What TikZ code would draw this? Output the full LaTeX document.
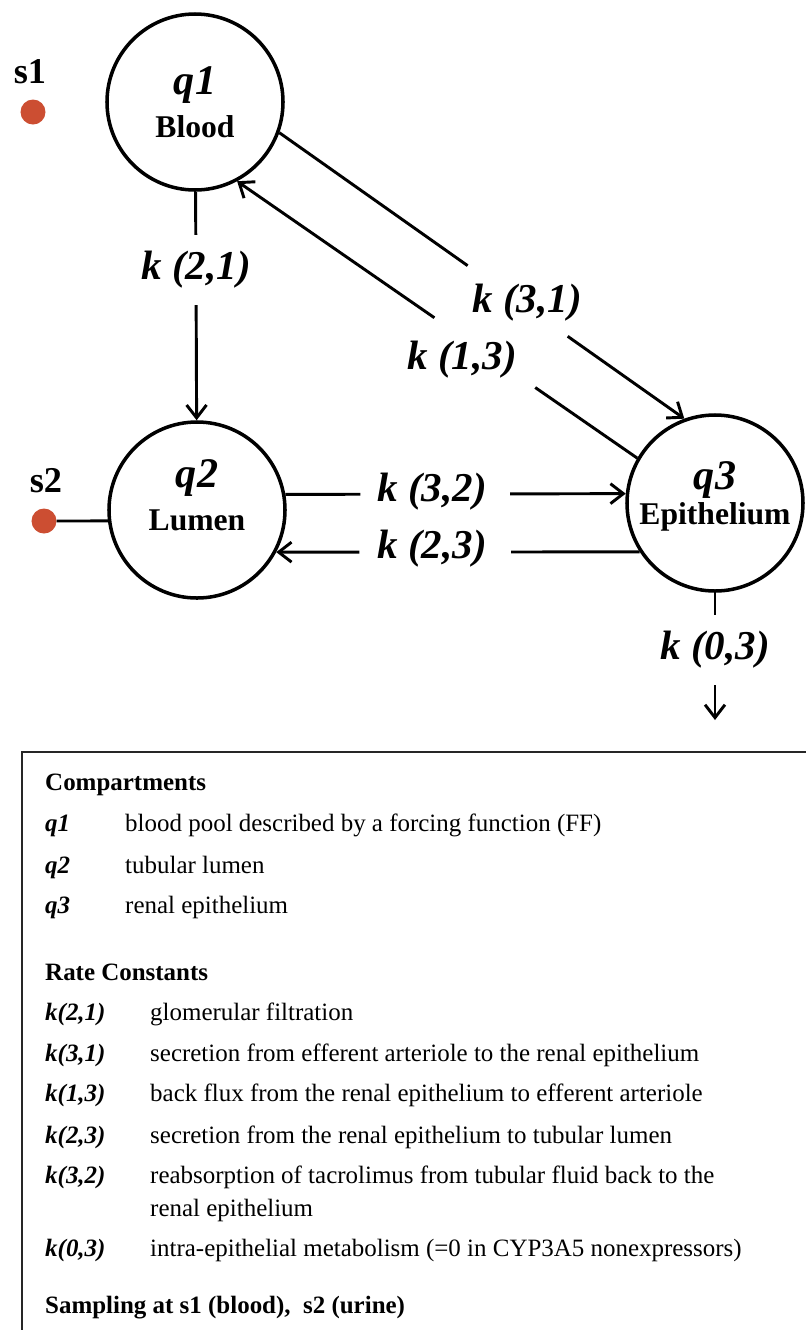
\documentclass[tikz,border=0pt]{standalone}
\usepackage{fontspec}
\setmainfont{Liberation Serif}
\usetikzlibrary{arrows.meta, calc}
\definecolor{probe}{RGB}{204,78,50}

\begin{document}
\begin{tikzpicture}[x=0.03cm, y=-0.03cm,
  comp/.style={circle, draw, line width=3pt, minimum size=5.28cm, inner sep=0pt},
  conn/.style={line width=2.5pt},
  conntip/.style={-{Straight Barb[length=11pt, width=17pt]}},
  rate/.style={font=\fontsize{35}{40}\selectfont\bfseries\itshape, inner xsep=4pt, inner ysep=14pt},
  qname/.style={font=\fontsize{36}{40}\selectfont\bfseries\itshape, inner sep=0pt},
  qsub/.style={font=\fontsize{27}{32}\selectfont\bfseries, inner sep=0pt},
  sname/.style={font=\fontsize{31}{36}\selectfont\bfseries, inner sep=0pt},
  sdot/.style={circle, fill=probe, minimum size=0.75cm, inner sep=0pt},
  legtext/.style={font=\fontsize{21.3}{25}\selectfont, anchor=base west, inner sep=0pt},
  leghead/.style={legtext, font=\fontsize{21.3}{25}\selectfont\bfseries},
  legsym/.style={legtext, font=\fontsize{21.3}{25}\selectfont\bfseries\itshape}]
  \useasboundingbox (0,0) rectangle (806,1330);

  % Compartments
  \node[comp] (q1) at (195,102) {};
  \node[comp] (q2) at (197,510) {};
  \node[comp] (q3) at (715,503) {};
  \node[qname] (n1) at (195,85) {q1};
  \node[qsub] (b1) at (195,127) {Blood};
  \node[qname] (n2) at (197,478) {q2};
  \node[qsub] (b2) at (197,520) {Lumen};
  \node[qname] (n3) at (715,480) {q3};
  \node[qsub] (b3) at (715,517) {Epithelium};

  % Sampling sites
  \node[sname] (s1) at (30,72) {s1};
  \node[sdot] (p1) at (33,112) {};
  \node[sname] (s2) at (46,481) {s2};
  \node[sdot] (p2) at (44,521) {};
  \draw[conn] (p2) -- (q2.187);

  % Rate constant labels
  \node[rate] (k21) at (196,270) {k (2,1)};
  \node[rate] (k31) at (527,303) {k (3,1)};
  \node[rate] (k13) at (462,360) {k (1,3)};
  \node[rate] (k32) at (432,492) {k (3,2)};
  \node[rate] (k23) at (432,549) {k (2,3)};
  \node[rate] (k03) at (715,650) {k (0,3)};
  \coordinate (out) at (715,720);

  % Blood -> Lumen
  \draw[conn] (q1) -- (k21);
  \draw[conn, conntip] (k21) -- (q2);

  % Blood <-> Epithelium
  \draw[conn] (q1.-20) -- ($(q1.-20)!0.465!(q3.110)$);
  \draw[conn, conntip] ($(q1.-20)!0.712!(q3.110)$) -- (q3.110);
  \draw[conn] (q3.150) -- ($(q3.150)!0.255!(q1.-62)$);
  \draw[conn, conntip] ($(q3.150)!0.507!(q1.-62)$) -- (q1.-62);

  % Lumen <-> Epithelium
  \draw[conn] (q2.10) -- ($(q2.10)!0.22!(q3.174)$);
  \draw[conn, conntip] ($(q2.10)!0.66!(q3.174)$) -- (q3.174);
  \draw[conn] (q3.-147) -- ($(q3.-147)!0.354!(q2.-28)$);
  \draw[conn, conntip] ($(q3.-147)!0.771!(q2.-28)$) -- (q2.-28);

  % Loss from epithelium
  \draw[conn] (q3) -- (k03);
  \draw[conn, conntip] (k03) -- (out);

  % Legend box (runs off the page to the right and below)
  \draw[line width=2.2pt, black!85] (840,752) -| (22,1360);

  \node[leghead] (hcomp) at (45,790) {Compartments};
  \foreach \yy/\nm/\txt in {831/q1/blood pool described by a forcing function (FF),
                            873/q2/tubular lumen,
                            913/q3/renal epithelium} {
    \node[legsym] (c\nm) at (45,\yy) {\nm};
    \node[legtext] (d\nm) at (125,\yy) {\txt};
  }

  \node[leghead] (hrate) at (45,980) {Rate Constants};
  \foreach \yy/\nm/\kk/\txt in {1020/21/{k(2,1)}/glomerular filtration,
                                1061/31/{k(3,1)}/secretion from efferent arteriole to the renal epithelium,
                                1101/13/{k(1,3)}/back flux from the renal epithelium to efferent arteriole,
                                1143/23/{k(2,3)}/secretion from the renal epithelium to tubular lumen,
                                1183/32/{k(3,2)}/reabsorption of tacrolimus from tubular fluid back to the,
                                1256/03/{k(0,3)}/intra-epithelial metabolism (=0 in CYP3A5 nonexpressors)} {
    \node[legsym] (r\nm) at (45,\yy) {\kk};
    \node[legtext] (e\nm) at (150,\yy) {\txt};
  }
  \node[legtext] (e32b) at (150,1216) {renal epithelium};

  \node[leghead] (hsamp) at (45,1313) {Sampling at s1 (blood),\ \ s2 (urine)};
\end{tikzpicture}
\end{document}
